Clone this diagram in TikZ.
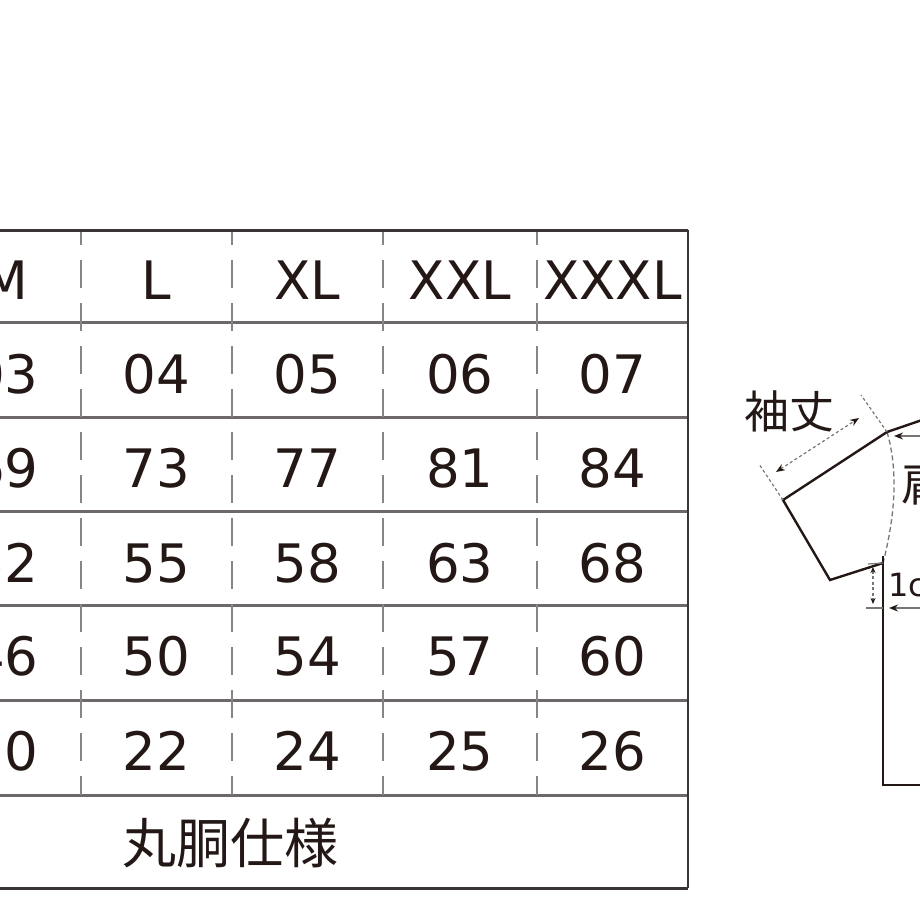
\documentclass[tikz,border=0pt]{standalone}
\usepackage{fontspec}
\setmainfont{DejaVu Sans}
\newfontfamily\jp{Noto Sans CJK JP}
\usetikzlibrary{arrows.meta}
\definecolor{ink}{HTML}{231815}
\definecolor{rowline}{HTML}{6E6969}
\definecolor{frame}{HTML}{3A3535}
\definecolor{dashc}{HTML}{8A8585}
\definecolor{dimc}{HTML}{7A7575}
\tikzset{
  cell/.style={anchor=base, text=ink, inner sep=0pt, font=\fontsize{53}{60}\selectfont},
  hline/.style={draw=rowline, line width=3pt},
  border/.style={draw=frame, line width=3pt},
  vdash/.style={draw=dashc, line width=2pt, dash pattern=on 28pt off 15pt, dash phase=13pt},
  shirt/.style={draw=ink, line width=2.4pt, line join=miter},
  guide/.style={draw=dimc, line width=1.2pt, dash pattern=on 3pt off 2.5pt},
  dimarrow/.style={draw=dimc, line width=1.2pt, dash pattern=on 3pt off 2.5pt, {Stealth[length=9pt,width=7pt,color=ink]}-{Stealth[length=9pt,width=7pt,color=ink]}},
  larrow/.style={draw=dimc, line width=1.5pt, {Stealth[length=9pt,width=7pt,color=ink]}-},
  lbl/.style={text=ink, inner sep=0pt},
}
\begin{document}
\begin{tikzpicture}[x=1pt,y=-1pt]
\useasboundingbox (0,0) rectangle (920,920);
\fill[white] (0,0) rectangle (920,920);
\clip (0,0) rectangle (920,920);

% ---- table grid ----
\coordinate (tl) at (-230,230);
\coordinate (tr) at (688,230);
\coordinate (bl) at (-230,888);
\coordinate (br) at (688,888);
\foreach \y in {322,417,511,605,700,795}{
  \draw[hline] (-230,\y) -- (688,\y);
}
\foreach \x in {81,232,383,537}{
  \draw[vdash] (\x,230) -- (\x,795);
}
\draw[border] (tl) -- (tr);
\draw[border] (bl) -- (br);
\draw[draw=frame, line width=2.6pt] (tr) -- (br);

% ---- table text ----
\foreach \r/\yb/\a/\b/\c/\d/\e in {
  h/299/M/L/XL/XXL/XXXL,
  a/393/03/04/05/06/07,
  b/487/69/73/77/81/84,
  c/582/52/55/58/63/68,
  d/675/46/50/54/57/60,
  e/770/20/22/24/25/26}{
  \node[cell] (\r1) at (5,\yb) {\a};
  \node[cell] (\r2) at (156.5,\yb) {\b};
  \node[cell] (\r3) at (307.5,\yb) {\c};
  \node[cell] (\r4) at (460,\yb) {\d};
  \node[cell] (\r5) at (612.5,\yb) {\e};
}
\node[lbl, font=\jp\fontsize{54}{60}\selectfont] (spec) at (230,843) {丸胴仕様};

% ---- T-shirt sketch ----
\coordinate (sh) at (887,432);
\coordinate (neck) at (925,419);
\coordinate (cuffT) at (783,500);
\coordinate (cuffB) at (830,580);
\coordinate (pit) at (883,563);
\coordinate (hem) at (883,785);
\coordinate (hemR) at (925,785);

\draw[draw=dimc, line width=1.3pt, dash pattern=on 5pt off 3pt]
  (sh) .. controls (896,462) and (898,505) .. (pit);
\draw[shirt] (neck) -- (sh) -- (cuffT) -- (cuffB) -- (pit);
\draw[shirt] (883,556) -- (hem) -- (hemR);

% sleeve length dimension
\coordinate (e1) at (861,395);
\coordinate (e2) at (759,464);
\coordinate (d1) at (859,418);
\coordinate (d2) at (776,472);
\draw[guide] (sh) -- (e1);
\draw[guide] (cuffT) -- (e2);
\draw[dimarrow] (d2) -- (d1);
\node[lbl, font=\jp\fontsize{45}{50}\selectfont] (sode) at (789,411) {袖丈};

% shoulder width arrow
\coordinate (s1) at (894,436);
\coordinate (s2) at (925,436);
\draw[larrow] (s1) -- (s2);
\node[lbl, font=\jp\fontsize{45}{50}\selectfont, anchor=west] (kata) at (901,484) {肩幅};

% 1cm dimension
\coordinate (t1) at (868,564);
\coordinate (t2) at (866,608);
\coordinate (t3) at (883,608);
\coordinate (v1) at (873,567);
\coordinate (v2) at (873,604);
\draw[draw=dimc, line width=1.2pt] (t1) -- (pit);
\draw[draw=dimc, line width=1.5pt] (t2) -- (t3);
\draw[dimarrow, {Stealth[length=6pt,width=5pt,color=ink]}-{Stealth[length=6pt,width=5pt,color=ink]}] (v1) -- (v2);
\coordinate (w1) at (889,608);
\coordinate (w2) at (925,608);
\draw[larrow] (w1) -- (w2);
\node[lbl, font=\fontsize{32}{36}\selectfont, anchor=west] (onecm) at (888,585) {1cm};
\end{tikzpicture}
\end{document}
